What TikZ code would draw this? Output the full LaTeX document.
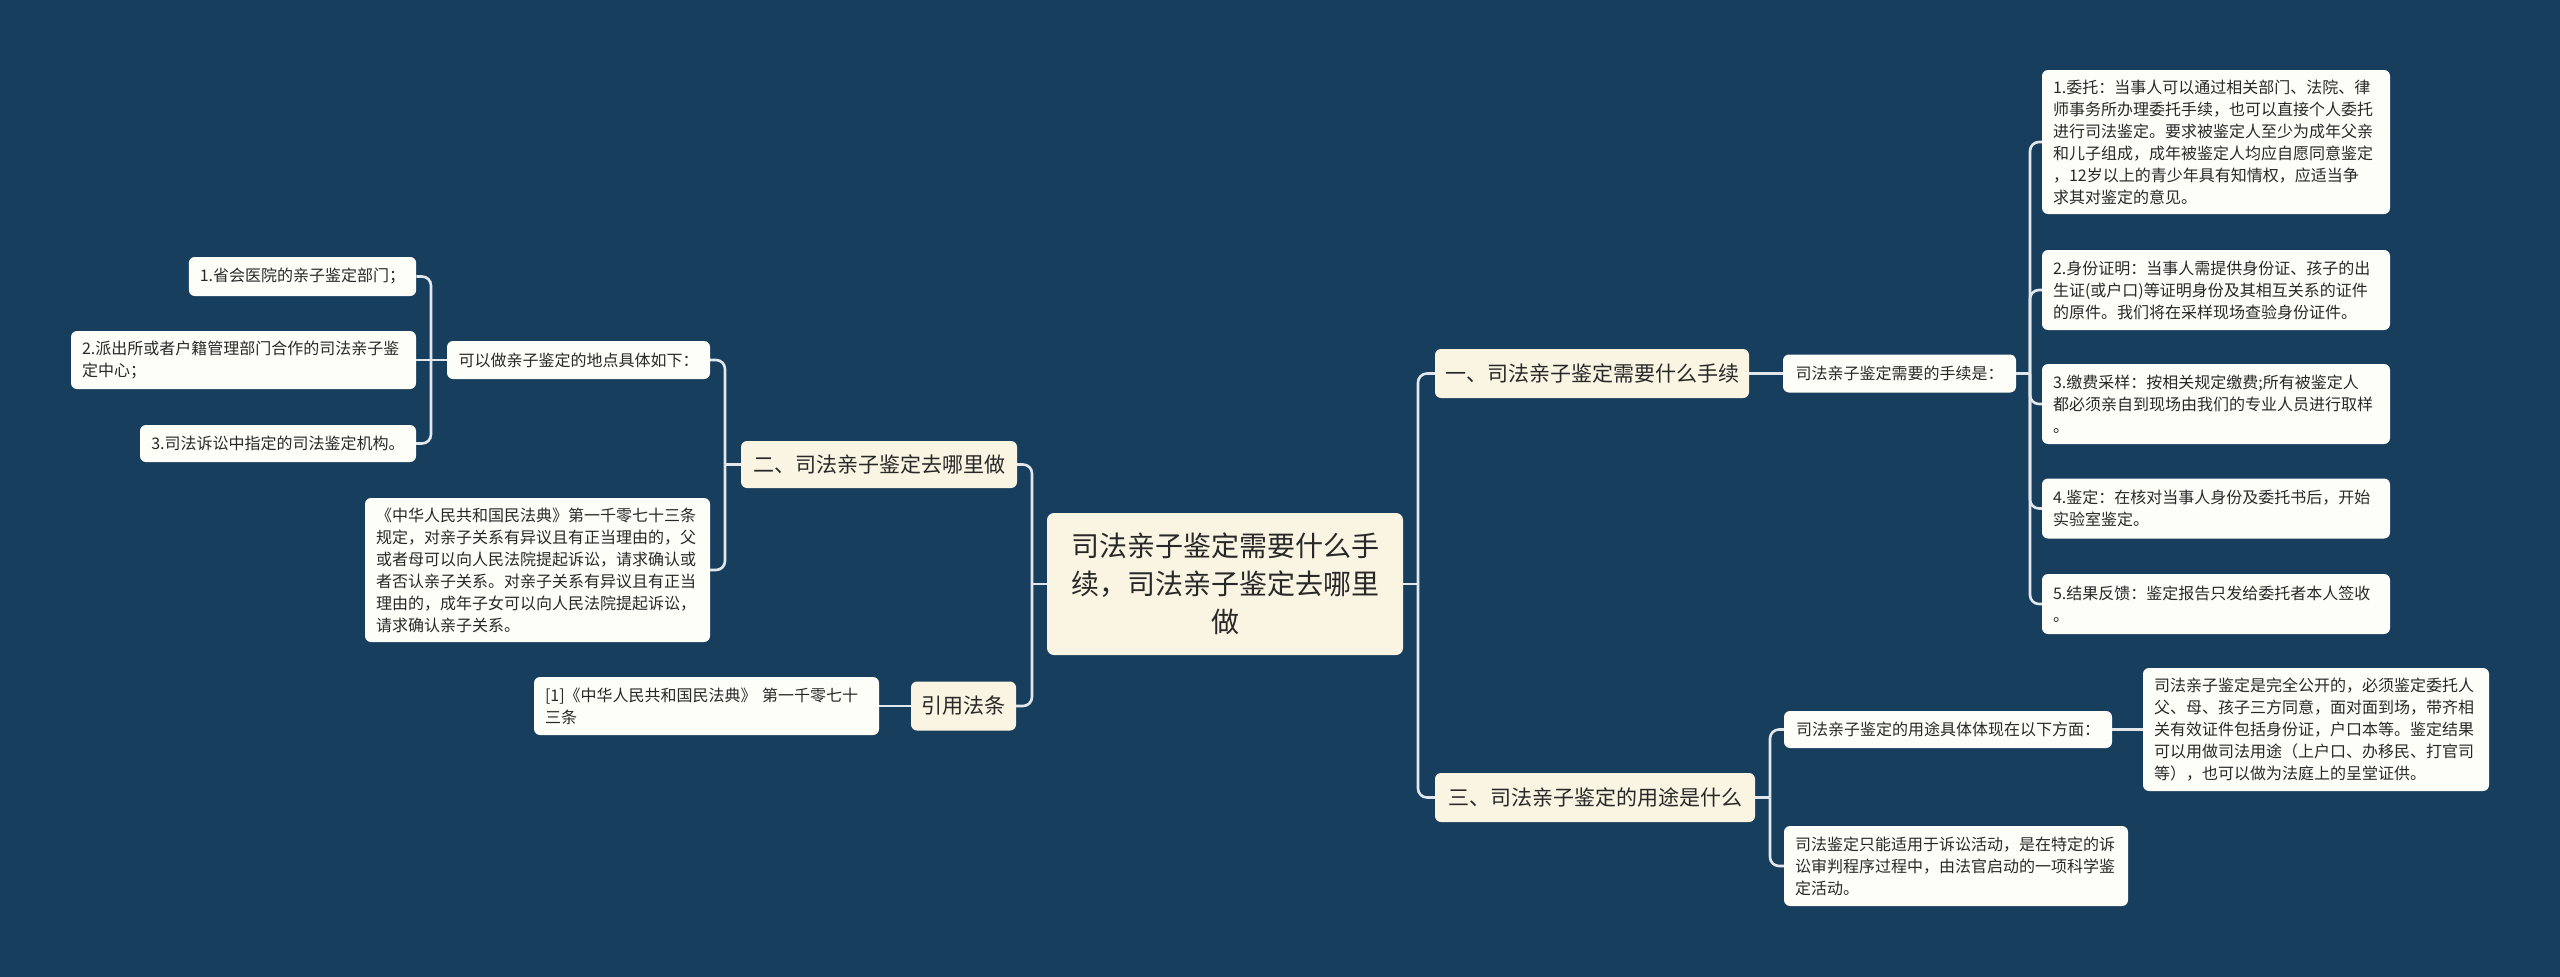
\documentclass[tikz,border=0pt]{standalone}
\usepackage{fontspec}
\setmainfont{Noto Sans CJK SC}
\definecolor{bgc}{RGB}{24,62,94}
\definecolor{mainfill}{RGB}{250,244,226}
\definecolor{leaffill}{RGB}{254,254,249}
\definecolor{txt}{RGB}{40,40,40}
\definecolor{linec}{RGB}{226,231,236}
\begin{document}
\begin{tikzpicture}[x=1pt,y=-1pt,
  mainbox/.style={fill=mainfill, rounded corners=7, text=txt, align=center, inner xsep=10, inner ysep=0,
    font=\fontsize{28}{38}\selectfont},
  branchbox/.style={fill=mainfill, rounded corners=6, text=txt, align=center, inner xsep=8, inner ysep=0,
    font=\fontsize{21}{26}\selectfont},
  leafbox/.style={fill=leaffill, rounded corners=6, text=txt, inner xsep=11, inner ysep=0,
    font=\fontsize{16}{22}\selectfont},
  multi/.style={align=left},
  conn/.style={draw=linec, line width=2.6, rounded corners=9}]
\useasboundingbox (0,0) rectangle (2560,977);
\fill[bgc] (0,0) rectangle (2560,977);

% trunk x positions
\coordinate (tA) at (1418,0);
\coordinate (tB) at (1032,0);
\coordinate (tC) at (2030,0);
\coordinate (tD) at (1770,0);
\coordinate (tE) at (725,0);
\coordinate (tF) at (431,0);

% root
\node[mainbox, minimum width=356, minimum height=142, text width=336] (root) at (1225,584)
  {司法亲子鉴定需要什么手\\续，司法亲子鉴定去哪里\\做};

% right branch 1
\node[branchbox, minimum width=314, minimum height=49] (b1) at (1592,373.5) {一、司法亲子鉴定需要什么手续};
\node[leafbox, minimum width=233, minimum height=38] (s1) at (1899.5,373.5) {司法亲子鉴定需要的手续是：};
\node[leafbox, multi, minimum width=348, minimum height=144, text width=326] (l1) at (2216,142)
  {1.委托：当事人可以通过相关部门、法院、律\\师事务所办理委托手续，也可以直接个人委托\\进行司法鉴定。要求被鉴定人至少为成年父亲\\和儿子组成，成年被鉴定人均应自愿同意鉴定\\，12岁以上的青少年具有知情权，应适当争\\求其对鉴定的意见。};
\node[leafbox, multi, minimum width=348, minimum height=80, text width=326] (l2) at (2216,290)
  {2.身份证明：当事人需提供身份证、孩子的出\\生证(或户口)等证明身份及其相互关系的证件\\的原件。我们将在采样现场查验身份证件。};
\node[leafbox, multi, minimum width=348, minimum height=80, text width=326] (l3) at (2216,404)
  {3.缴费采样：按相关规定缴费;所有被鉴定人\\都必须亲自到现场由我们的专业人员进行取样\\。};
\node[leafbox, multi, minimum width=348, minimum height=60, text width=326] (l4) at (2216,508.5)
  {4.鉴定：在核对当事人身份及委托书后，开始\\实验室鉴定。};
\node[leafbox, multi, minimum width=348, minimum height=60, text width=326] (l5) at (2216,604)
  {5.结果反馈：鉴定报告只发给委托者本人签收\\。};

% right branch 3
\node[branchbox, minimum width=320, minimum height=49] (b3) at (1595,797.5) {三、司法亲子鉴定的用途是什么};
\node[leafbox, minimum width=328, minimum height=37] (s3a) at (1948,729.5) {司法亲子鉴定的用途具体体现在以下方面：};
\node[leafbox, multi, minimum width=346, minimum height=123, text width=324] (s3aa) at (2316,729.5)
  {司法亲子鉴定是完全公开的，必须鉴定委托人\\父、母、孩子三方同意，面对面到场，带齐相\\关有效证件包括身份证，户口本等。鉴定结果\\可以用做司法用途（上户口、办移民、打官司\\等），也可以做为法庭上的呈堂证供。};
\node[leafbox, multi, minimum width=344, minimum height=80, text width=322] (s3b) at (1956,866)
  {司法鉴定只能适用于诉讼活动，是在特定的诉\\讼审判程序过程中，由法官启动的一项科学鉴\\定活动。};

% left branch 2
\node[branchbox, minimum width=276, minimum height=47] (b2) at (879,464.5) {二、司法亲子鉴定去哪里做};
\node[leafbox, minimum width=263, minimum height=38] (s2a) at (578.5,360) {可以做亲子鉴定的地点具体如下：};
\node[leafbox, minimum width=227, minimum height=39] (L1) at (302.5,276.5) {1.省会医院的亲子鉴定部门；};
\node[leafbox, multi, minimum width=345, minimum height=58, text width=323] (L2) at (243.5,360)
  {2.派出所或者户籍管理部门合作的司法亲子鉴\\定中心；};
\node[leafbox, minimum width=276, minimum height=37] (L3) at (278,443.5) {3.司法诉讼中指定的司法鉴定机构。};
\node[leafbox, multi, minimum width=345, minimum height=144, text width=323] (s2b) at (537.5,570)
  {《中华人民共和国民法典》第一千零七十三条\\规定，对亲子关系有异议且有正当理由的，父\\或者母可以向人民法院提起诉讼，请求确认或\\者否认亲子关系。对亲子关系有异议且有正当\\理由的，成年子女可以向人民法院提起诉讼，\\请求确认亲子关系。};

% left branch 4
\node[branchbox, minimum width=105, minimum height=49] (b4) at (963.5,706) {引用法条};
\node[leafbox, multi, minimum width=345, minimum height=58, text width=323] (s4) at (706.5,706)
  {[1]《中华人民共和国民法典》 第一千零七十\\三条};

% connectors: straight stub from parent to trunk, rounded bend into each child
\draw[conn] (root.east) -- (root.east -| tA);
\draw[conn] (root.east -| tA) |- (b1.west);
\draw[conn] (root.east -| tA) |- (b3.west);
\draw[conn] (root.west) -- (root.west -| tB);
\draw[conn] (root.west -| tB) |- (b2.east);
\draw[conn] (root.west -| tB) |- (b4.east);
\draw[conn] (b1.east) -- (s1.west);
\draw[conn] (s1.east) -- (s1.east -| tC);
\draw[conn] (s1.east -| tC) |- (l1.west);
\draw[conn] (s1.east -| tC) |- (l2.west);
\draw[conn] (s1.east -| tC) |- (l3.west);
\draw[conn] (s1.east -| tC) |- (l4.west);
\draw[conn] (s1.east -| tC) |- (l5.west);
\draw[conn] (b3.east) -- (b3.east -| tD);
\draw[conn] (b3.east -| tD) |- (s3a.west);
\draw[conn] (b3.east -| tD) |- (s3b.west);
\draw[conn] (s3a.east) -- (s3aa.west);
\draw[conn] (b2.west) -- (b2.west -| tE);
\draw[conn] (b2.west -| tE) |- (s2a.east);
\draw[conn] (b2.west -| tE) |- (s2b.east);
\draw[conn] (s2a.west) -- (s2a.west -| tF);
\draw[conn] (s2a.west -| tF) |- (L1.east);
\draw[conn] (s2a.west) -- (L2.east);
\draw[conn] (s2a.west -| tF) |- (L3.east);
\draw[conn] (b4.west) -- (s4.east);
\end{tikzpicture}
\end{document}
